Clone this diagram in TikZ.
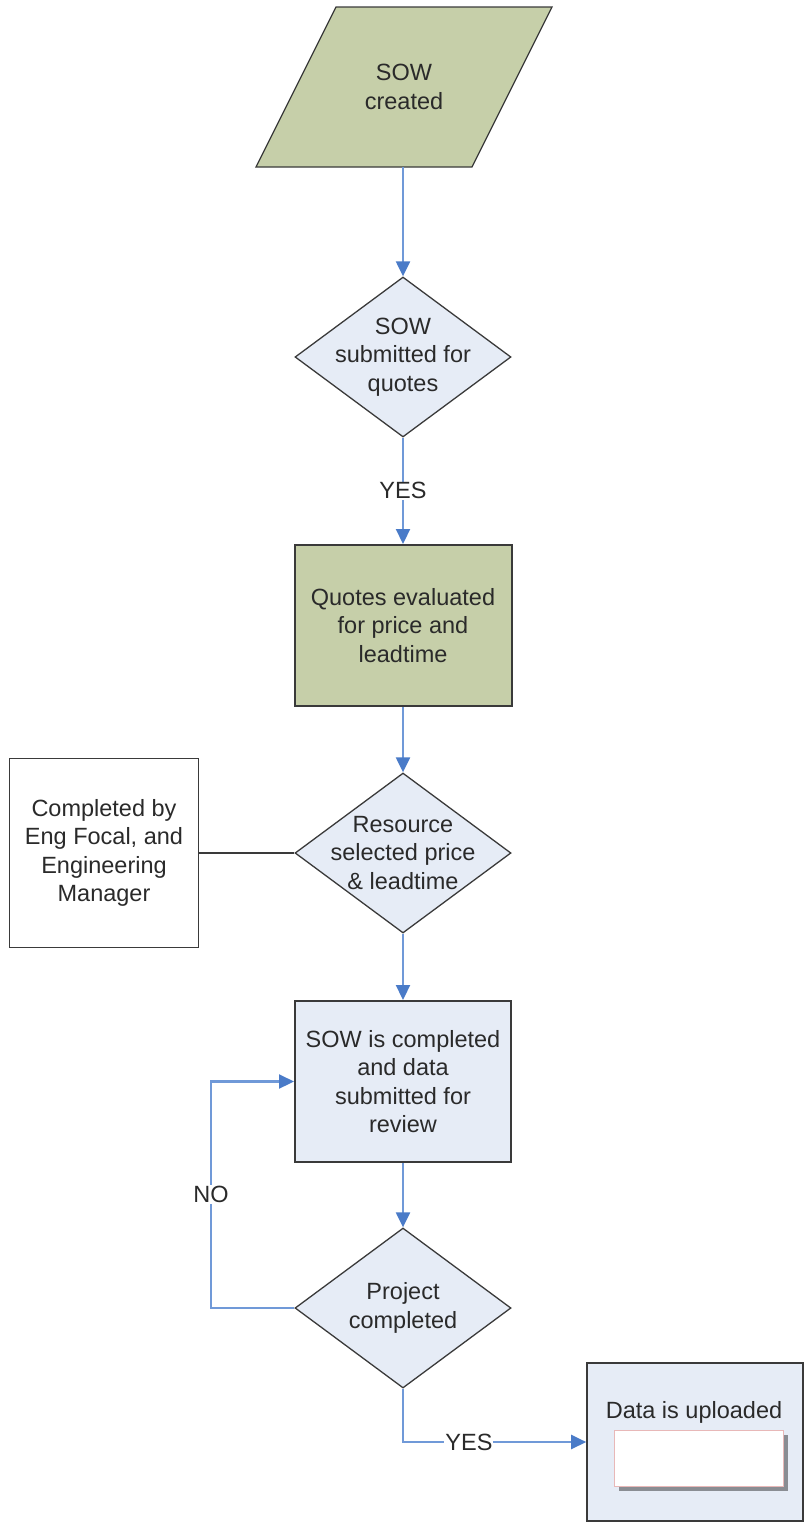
\documentclass[tikz,border=0pt]{standalone}
\usepackage{fontspec}
\setmainfont{Liberation Sans}
\usetikzlibrary{arrows.meta,shapes.geometric,shadows}
\definecolor{olive}{HTML}{C6CFA9}
\definecolor{paleblue}{HTML}{E6ECF6}
\definecolor{connline}{HTML}{7099D8}
\definecolor{conntip}{HTML}{4A7BC8}
\definecolor{edge}{HTML}{3A3A3A}
\definecolor{txtc}{HTML}{2A2A2A}
\definecolor{pinkedge}{HTML}{E8B8B8}
\tikzset{
  every node/.style={text=txtc},
  txt/.style={font=\fontsize{23.5}{28.5}\selectfont, align=center, inner sep=0pt},
  boxshape/.style={draw=edge, line width=2pt, rectangle, inner sep=0pt},
  diashape/.style={draw=edge, line width=1.3pt, diamond, fill=paleblue, inner sep=0pt, minimum width=216pt, minimum height=160pt},
  conn/.style={draw=connline, line width=2.2pt, -{Triangle[length=15pt,width=14pt,fill=conntip,color=conntip]}},
  plainline/.style={draw=edge, line width=1.5pt},
  lbl/.style={txt, fill=white, inner sep=1pt}
}
\begin{document}
\begin{tikzpicture}[x=1pt,y=-1pt]
\useasboundingbox (0,0) rectangle (804,1523);
% parallelogram
\draw[draw=edge, line width=1.3pt, fill=olive] (336,7) -- (552,7) -- (472,167) -- (256,167) -- cycle;
\node[txt] (sow) at (404,87) {SOW\\created};
\coordinate (sowbot) at (403,167);
% diamond 1
\node[diashape] (d1) at (403,357) {};
\node[txt] (d1t) at (d1.center) {SOW\\submitted for\\quotes};
% box 2
\node[boxshape, fill=olive, minimum width=217pt, minimum height=161pt] (b2) at (403,625.5) {};
\node[txt] (b2t) at (b2.center) {Quotes evaluated\\for price and\\leadtime};
% diamond 2
\node[diashape] (d2) at (403,853) {};
\node[txt] (d2t) at (d2.center) {Resource\\selected price\\\& leadtime};
% note box
\node[boxshape, fill=white, minimum width=189pt, minimum height=189pt, line width=1.6pt] (note) at (104,853) {};
\node[txt] (notet) at (note.center) {Completed by\\Eng Focal, and\\Engineering\\Manager};
% box 3
\node[boxshape, fill=paleblue, minimum width=216pt, minimum height=161pt] (b3) at (403,1081.5) {};
\node[txt] (b3t) at (b3.center) {SOW is completed\\and data\\submitted for\\review};
% diamond 3
\node[diashape] (d3) at (403,1308) {};
\node[txt] (d3t) at (d3.center) {Project\\completed};
% box 4
\node[boxshape, fill=paleblue, minimum width=216pt, minimum height=158pt, line width=1.6pt] (b4) at (695,1442) {};
\node[txt] (b4t) at (694,1412) {Data is uploaded};
\node[draw=pinkedge, line width=1pt, fill=white, minimum width=169pt, minimum height=56pt, inner sep=0pt,
      drop shadow={shadow xshift=5pt, shadow yshift=-5pt, fill=black, opacity=0.4}] (inner) at (698.5,1458) {};
% connectors
\draw[conn] (sowbot) -- (d1.north);
\draw[conn] (d1.south) -- node[lbl] (yes1) {YES} (b2.north);
\draw[conn] (b2.south) -- (d2.north);
\draw[plainline] (note.east) -- (d2.west);
\draw[conn] (d2.south) -- (b3.north);
\draw[conn] (b3.south) -- (d3.north);
\coordinate (noc) at (211,1308);
\draw[conn] (d3.west) -- (noc) |- node[lbl, pos=0.25] (no) {NO} (b3.west);
\draw[conn] (d3.south) |- node[lbl, pos=0.68] (yes2) {YES} (b4.west);
\end{tikzpicture}
\end{document}
